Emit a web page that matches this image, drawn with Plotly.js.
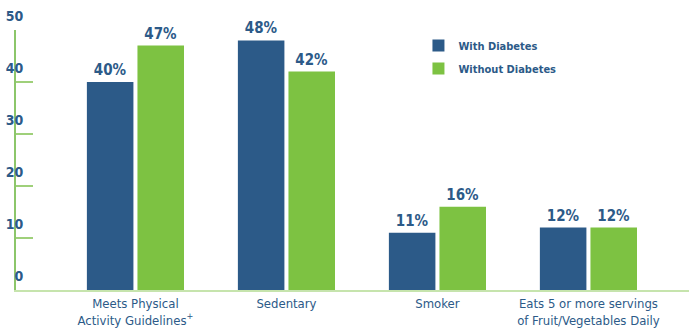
<!DOCTYPE html>
<html>
<head>
<meta charset="utf-8">
<script src="https://cdn.plot.ly/plotly-3.0.1.min.js"></script>
<style>html,body{margin:0;padding:0;background:#fff;}#chart{width:689px;height:335px;}</style>
</head>
<body>
<div id="chart"></div>
<script>
const categories = [
  "Meets Physical<br>Activity Guidelines<sup>+</sup>",
  "Sedentary",
  "Smoker",
  "Eats 5 or more servings<br>of Fruit/Vegetables Daily"
];
const withDiabetes = [40, 48, 11, 12];
const withoutDiabetes = [47, 42, 16, 12];
const seriesNames = ["With Diabetes", "Without Diabetes"];
const yTickVals = [0, 10, 20, 30, 40, 50];
const yTickText = ["0", "10", "20", "30", "40", "50"];

const BLUE = "#2c5a88";
const GREEN = "#7dc242";
const FONT = "'Liberation Sans Narrow', 'DejaVu Sans Condensed', 'Arial Narrow', sans-serif";

const pct = v => v.map(x => x + "%");

const traces = [
  {
    type: "bar", name: seriesNames[0], x: categories, y: withDiabetes,
    marker: {color: BLUE}, text: pct(withDiabetes), textposition: "outside",
    textfont: {family: FONT, size: 15, color: BLUE, weight: "bold"},
    cliponaxis: false, legendgroup: "a", hoverinfo: "none"
  },
  {
    type: "bar", name: seriesNames[1], x: categories, y: withoutDiabetes,
    marker: {color: GREEN}, text: pct(withoutDiabetes), textposition: "outside",
    textfont: {family: FONT, size: 15, color: BLUE, weight: "bold"},
    cliponaxis: false, legendgroup: "b", hoverinfo: "none"
  }
];

const layout = {
  width: 689, height: 335,
  margin: {l: 16, r: 0, t: 30, b: 45, pad: 0},
  paper_bgcolor: "#fff", plot_bgcolor: "#fff",
  barmode: "group", bargap: 0.33, bargroupgap: 0.08,
  font: {family: FONT, color: BLUE},
  xaxis: {
    type: "category", range: [-0.791, 3.666],
    showline: true, linecolor: "#c6e4ad", linewidth: 2,
    ticks: "", showgrid: false, zeroline: false,
    tickfont: {family: FONT, size: 13, color: BLUE},
    automargin: false
  },
  yaxis: {
    range: [0, 50], tickvals: yTickVals, ticktext: yTickText,
    showline: true, linecolor: "#8cc66a", linewidth: 2,
    ticks: "inside", ticklen: 17, tickcolor: "#9fd07a", tickwidth: 1.5,
    showgrid: false, zeroline: false,
    tickfont: {family: FONT, size: 14, color: BLUE, weight: "bold"},
    ticklabelshift: -14, ticklabelstandoff: -12,
    automargin: false
  },
  showlegend: true,
  legend: {
    x: 0.598, y: 0.996, xanchor: "left", yanchor: "top",
    bgcolor: "rgba(0,0,0,0)", traceorder: "grouped", tracegroupgap: 4,
    font: {family: FONT, size: 11, color: BLUE, weight: "bold"},
    itemwidth: 30
  }
};

Plotly.newPlot("chart", traces, layout, {displayModeBar: false, staticPlot: true});
</script>
</body>
</html>
